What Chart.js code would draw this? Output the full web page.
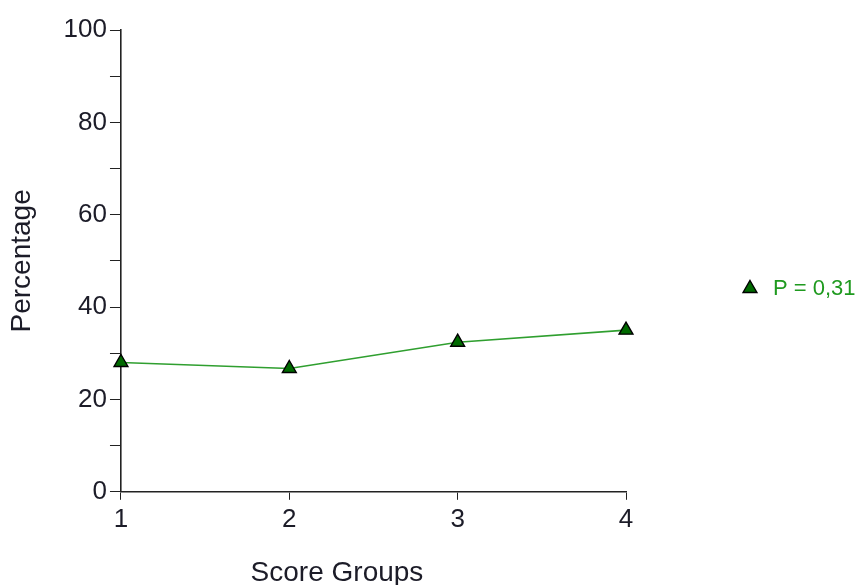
<!DOCTYPE html>
<html>
<head>
<meta charset="utf-8">
<script src="https://cdn.jsdelivr.net/npm/chart.js@4"></script>
<style>
  html, body { margin: 0; padding: 0; background: #fff; }
  #wrap { width: 857px; height: 585px; }
</style>
</head>
<body>
<div id="wrap"><canvas id="kurva"></canvas></div>
<script>
// poänggrupper på x-axeln
const scoreGroups = [1, 2, 3, 4];
// procent per grupp
const percentages = [28.0, 26.7, 32.4, 35.0];
const seriesLabel = "P = 0,31";
const xTitle = "Score Groups";

const yMin = 0;
const yMax = 100;

const textColor = "#1c1c28";
const axisColor = "#222222";
const legendColor = "#1f9a1f";
const fontFamily = "'Liberation Sans', Arial, sans-serif";

const points = scoreGroups.map((g, i) => ({ x: g, y: percentages[i] }));

/**
 * ritar x-titeln och förklaringen själv så de hamnar där originalet har dem
 */
const extraText = {
    id: "extraText",
    afterDraw(chart) {
        const c = chart.ctx;
        const area = chart.chartArea;
        const ds = chart.data.datasets[0];

        c.save();
        // x-axelns titel, lite vänster om mitten som i originalet
        c.fillStyle = textColor;
        c.font = "28px " + fontFamily;
        c.textAlign = "center";
        c.textBaseline = "middle";
        c.fillText(xTitle, area.left + 216, area.bottom + 81);

        // förklaring: triangel + text
        const ly = chart.height / 2 - 4;
        const lx = area.right + 124;
        c.fillStyle = ds.pointBackgroundColor;
        c.strokeStyle = ds.pointBorderColor;
        c.lineWidth = ds.pointBorderWidth;
        Chart.helpers.drawPoint(c, {
            pointStyle: "triangle",
            radius: ds.pointRadius,
            rotation: 0,
            borderWidth: ds.pointBorderWidth
        }, lx, ly);

        c.fillStyle = legendColor;
        c.font = "22px " + fontFamily;
        c.textAlign = "left";
        c.fillText(ds.label, lx + 23, ly);
        c.restore();
    }
};

const ctx = document.getElementById("kurva");

new Chart(ctx, {
    type: "line",
    data: {
        datasets: [{
            label: seriesLabel,
            data: points,
            clip: false,
            borderColor: "#2f9f2f",
            borderWidth: 1.6,
            tension: 0,
            pointStyle: "triangle",
            pointRadius: 8,
            pointBackgroundColor: "#006a00",
            pointBorderColor: "#000000",
            pointBorderWidth: 1.4
        }]
    },
    options: {
        responsive: true,
        maintainAspectRatio: false,
        animation: false,
        layout: {
            padding: { top: 30, left: 5, right: 231, bottom: 46 }
        },
        plugins: {
            tooltip: { enabled: false },
            legend: { display: false }
        },
        scales: {
            x: {
                type: "linear",
                min: 1,
                max: 4,
                ticks: {
                    stepSize: 1,
                    color: textColor,
                    padding: 4,
                    font: { family: fontFamily, size: 26 }
                },
                grid: {
                    drawOnChartArea: false,
                    tickLength: 8,
                    color: axisColor
                },
                border: { color: axisColor, width: 1.6 }
            },
            y: {
                min: yMin,
                max: yMax,
                ticks: {
                    stepSize: 10,
                    color: textColor,
                    padding: 3,
                    font: { family: fontFamily, size: 26 },
                    callback: v => (v % 20 === 0 ? v : "")
                },
                grid: {
                    drawOnChartArea: false,
                    tickLength: 11,
                    color: axisColor
                },
                border: { color: axisColor, width: 1.6 },
                title: {
                    display: true,
                    text: "Percentage",
                    color: textColor,
                    padding: { top: 0, bottom: 22 },
                    font: { family: fontFamily, size: 28 }
                }
            }
        }
    },
    plugins: [extraText]
});
</script>
</body>
</html>
